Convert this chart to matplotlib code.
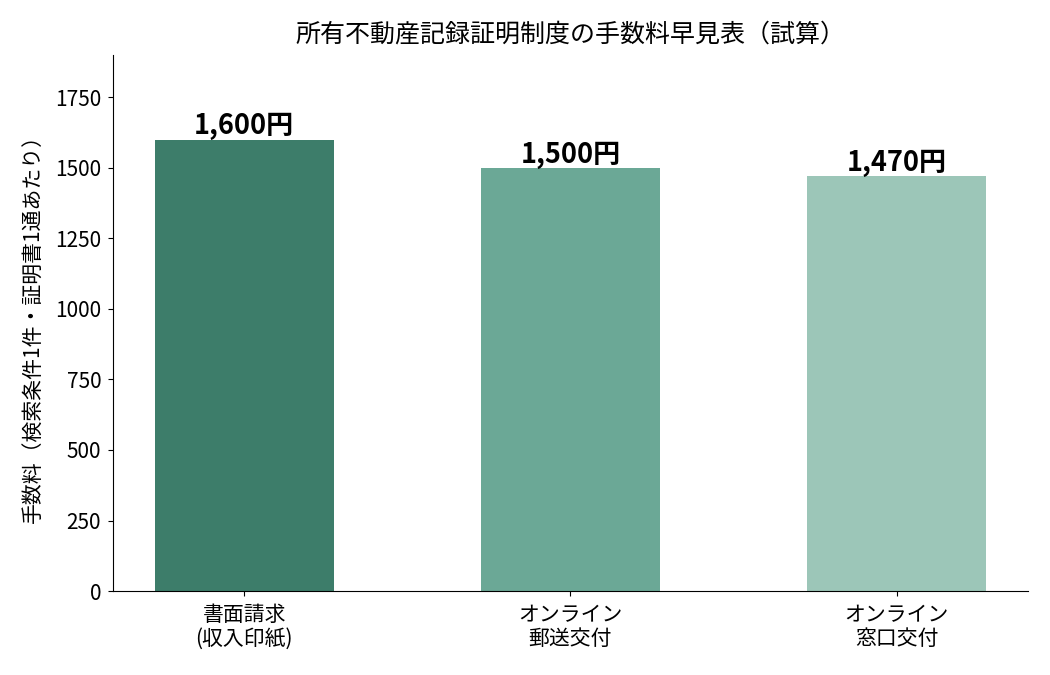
import matplotlib
matplotlib.use("Agg")
import matplotlib.pyplot as plt

plt.rcParams['font.family'] = ['Noto Sans CJK JP', 'DejaVu Sans']

categories = ["書面請求\n(収入印紙)", "オンライン\n郵送交付", "オンライン\n窓口交付"]
fees = [1600, 1500, 1470]
fee_labels = ["1,600円", "1,500円", "1,470円"]
colors = ["#3d7d6a", "#6ba896", "#9cc6b8"]

fig = plt.figure(figsize=(10.5, 6.75), dpi=100)
ax = fig.add_axes([0.1076, 0.1244, 0.8714, 0.7941])
bars = ax.bar(range(len(categories)), fees, width=0.55, color=colors)
for b, lab in zip(bars, fee_labels):
    ax.text(b.get_x() + b.get_width() / 2, b.get_height() - 3, lab,
            ha='center', va='bottom', fontsize=19.5, fontweight='bold')
ax.set_xticks(range(len(categories)))
ax.set_xticklabels(categories, fontsize=15, linespacing=1.1)
ax.tick_params(axis='x', pad=6)
ax.set_ylim(0, 1900)
ax.set_yticks([0, 250, 500, 750, 1000, 1250, 1500, 1750])
ax.tick_params(axis='y', labelsize=15, pad=5)
ax.set_ylabel("手数料（検索条件1件・証明書1通あたり）", fontsize=15, labelpad=7)
ax.set_title("所有不動産記録証明制度の手数料早見表（試算）", fontsize=18, pad=10)
ax.spines['top'].set_visible(False)
ax.spines['right'].set_visible(False)
fig.savefig("out.png", dpi=100)
